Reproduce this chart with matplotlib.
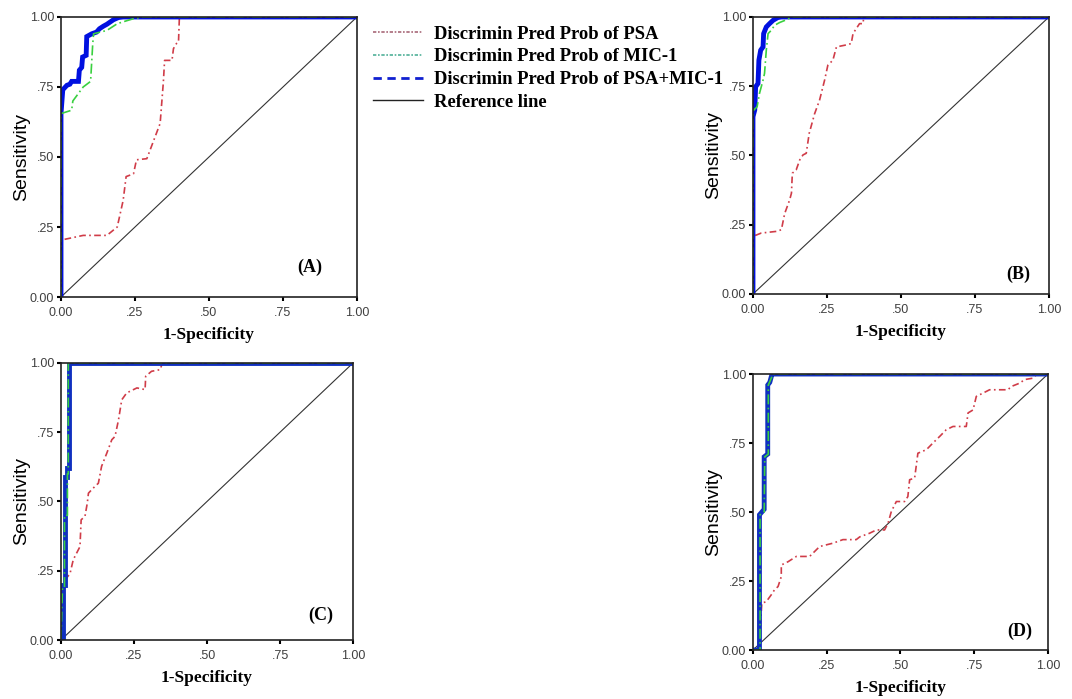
import matplotlib
matplotlib.use("Agg")
import matplotlib.pyplot as plt
from matplotlib.lines import Line2D

# ---- panel A ----
a_psa_x = [0, 0, 0.008, 0.075, 0.155, 0.19, 0.21, 0.22, 0.245, 0.255, 0.29, 0.31, 0.335, 0.346, 0.35,
           0.375, 0.38, 0.39, 0.397, 0.40, 1.0]
a_psa_y = [0, 0.20, 0.205, 0.22, 0.22, 0.25, 0.345, 0.43, 0.44, 0.49, 0.494, 0.55, 0.62, 0.77, 0.845,
           0.845, 0.887, 0.905, 0.91, 1.0, 1.0]
a_mic_x = [0, 0, 0.036, 0.04, 0.075, 0.10, 0.107, 0.11, 0.155, 0.19, 0.22, 0.245, 0.28, 1.0]
a_mic_y = [0, 0.655, 0.667, 0.70, 0.75, 0.77, 0.90, 0.94, 0.952, 0.976, 0.986, 0.994, 1.0, 1.0]
a_comb_x = [0, 0, 0.006, 0.02, 0.03, 0.036, 0.059, 0.062, 0.07, 0.073, 0.085, 0.087, 0.104, 0.12,
            0.13, 0.143, 0.155, 0.166, 0.177, 0.194, 0.21, 1.0]
a_comb_y = [0, 0.655, 0.74, 0.756, 0.76, 0.77, 0.77, 0.81, 0.82, 0.857, 0.863, 0.93, 0.94, 0.946,
            0.958, 0.967, 0.974, 0.982, 0.99, 0.998, 1.0, 1.0]

# ---- panel B ----
b_psa_x = [0, 0, 0.028, 0.079, 0.096, 0.107, 0.124, 0.13, 0.133, 0.146, 0.158, 0.169, 0.18, 0.19,
           0.208, 0.225, 0.242, 0.253, 0.27, 0.282, 0.31, 0.332, 0.338, 0.36, 0.372, 0.374, 1.0]
b_psa_y = [0, 0.208, 0.22, 0.226, 0.232, 0.29, 0.34, 0.364, 0.436, 0.448, 0.484, 0.502, 0.508, 0.58,
           0.65, 0.70, 0.772, 0.826, 0.844, 0.892, 0.898, 0.904, 0.94, 0.976, 0.976, 1.0, 1.0]
b_mic_x = [0, 0, 0.003, 0.014, 0.022, 0.034, 0.039, 0.045, 0.051, 0.062, 0.073, 0.09, 0.113, 0.13, 1.0]
b_mic_y = [0, 0.64, 0.664, 0.676, 0.724, 0.772, 0.796, 0.88, 0.94, 0.952, 0.97, 0.98, 0.99, 1.0, 1.0]
b_comb_x = [0, 0, 0.006, 0.009, 0.017, 0.02, 0.026, 0.034, 0.036, 0.045, 0.056, 0.068, 0.084, 0.096, 1.0]
b_comb_y = [0, 0.64, 0.664, 0.748, 0.76, 0.844, 0.88, 0.892, 0.94, 0.964, 0.976, 0.988, 0.998, 1.0, 1.0]

# ---- panel C ----
c_psa_x = [0, 0.005, 0.014, 0.031, 0.042, 0.059, 0.065, 0.069, 0.082, 0.09, 0.094, 0.11, 0.128, 0.139,
           0.157, 0.174, 0.185, 0.197, 0.208, 0.225, 0.26, 0.288, 0.29, 0.31, 0.34, 0.345, 0.35, 1.0]
c_psa_y = [0, 0.19, 0.217, 0.24, 0.29, 0.325, 0.337, 0.434, 0.446, 0.494, 0.53, 0.548, 0.566, 0.627,
           0.675, 0.723, 0.735, 0.795, 0.867, 0.892, 0.91, 0.904, 0.952, 0.97, 0.976, 0.994, 1.0, 1.0]
c_mic_x = [0, 0.005, 0.012, 0.012, 0.022, 0.022, 0.025, 0.025, 1.0]
c_mic_y = [0, 0.19, 0.19, 0.45, 0.45, 0.60, 0.60, 1.0, 1.0]
c_comb_x = [0, 0.006, 0.006, 0.012, 0.012, 0.022, 0.022, 0.026, 0.026, 1.0]
c_comb_y = [0, 0.0, 0.20, 0.20, 0.59, 0.59, 0.62, 0.62, 1.0, 1.0]

# ---- panel D ----
d_psa_x = [0, 0.02, 0.03, 0.045, 0.062, 0.073, 0.085, 0.096, 0.096, 0.119, 0.147, 0.192, 0.226, 0.271,
           0.305, 0.35, 0.362, 0.395, 0.418, 0.446, 0.458, 0.469, 0.486, 0.514, 0.525, 0.531, 0.548,
           0.559, 0.588, 0.61, 0.633, 0.655, 0.678, 0.723, 0.729, 0.746, 0.757, 0.78, 0.802, 0.864,
           0.876, 0.904, 0.921, 0.949, 0.96, 1.0]
d_psa_y = [0, 0, 0.17, 0.175, 0.20, 0.218, 0.23, 0.266, 0.308, 0.32, 0.339, 0.339, 0.375, 0.387,
           0.40, 0.40, 0.41, 0.423, 0.435, 0.435, 0.46, 0.502, 0.538, 0.538, 0.556, 0.617, 0.623,
           0.713, 0.726, 0.75, 0.774, 0.798, 0.81, 0.81, 0.859, 0.87, 0.919, 0.931, 0.943, 0.943,
           0.955, 0.967, 0.98, 0.985, 0.997, 1.0]
d_mic_x = [0, 0.024, 0.024, 0.038, 0.04, 0.052, 0.052, 0.06, 0.068, 1.0]
d_mic_y = [0, 0, 0.49, 0.50, 0.70, 0.71, 0.96, 0.98, 1.0, 1.0]
d_comb_x = [0, 0.022, 0.022, 0.03, 0.038, 0.038, 0.05, 0.05, 0.057, 0.062, 0.065, 1.0]
d_comb_y = [0, 0, 0.49, 0.50, 0.51, 0.70, 0.71, 0.96, 0.97, 0.99, 1.0, 1.0]

tick_vals = [0, 0.25, 0.5, 0.75, 1.0]
tick_labels = ["0.00", ".25", ".50", ".75", "1.00"]
legend_labels = ["Discrimin Pred Prob of PSA", "Discrimin Pred Prob of MIC-1",
                 "Discrimin Pred Prob of PSA+MIC-1", "Reference line"]

panels = [
    ("(A)", [0.0569, 0.5751, 0.2761, 0.4006], a_psa_x, a_psa_y, a_mic_x, a_mic_y, a_comb_x, a_comb_y, (0.84, 0.107), "#0010e0"),
    ("(B)", [0.7024, 0.5794, 0.2761, 0.3963], b_psa_x, b_psa_y, b_mic_x, b_mic_y, b_comb_x, b_comb_y, (0.895, 0.07), "#0010e0"),
    ("(C)", [0.0569, 0.0844, 0.2724, 0.3963], c_psa_x, c_psa_y, c_mic_x, c_mic_y, c_comb_x, c_comb_y, (0.888, 0.09), "#1030c0"),
    ("(D)", [0.7024, 0.0701, 0.2752, 0.3948], d_psa_x, d_psa_y, d_mic_x, d_mic_y, d_comb_x, d_comb_y, (0.904, 0.066), "#1030c0"),
]

serif = ["Liberation Serif", "DejaVu Serif"]
sans = ["Liberation Sans", "DejaVu Sans"]

fig = plt.figure(figsize=(10.72, 6.99), dpi=100)

for name, pos, px, py, mx, my, cx, cy, lpos, bcol in panels:
    ax = fig.add_axes(pos)
    ax.plot([0, 1], [0, 1], color="#333333", lw=0.8)
    ax.plot(px, py, color="#d03c48", lw=1.2, linestyle=(0, (4, 2, 1, 2)))
    ax.plot(cx, cy, color=bcol, lw=3.5, solid_joinstyle="miter")
    ax.plot(mx, my, color="#3ad040", lw=1.2, linestyle=(0, (6, 2, 1, 2)))
    ax.set_xlim(0, 1)
    ax.set_ylim(0, 1)
    ax.set_xticks(tick_vals)
    ax.set_xticklabels(tick_labels, family=sans, fontsize=9, color="#404040")
    ax.set_yticks(tick_vals)
    ax.set_yticklabels(tick_labels, family=sans, fontsize=9, color="#404040")
    ax.tick_params(direction="out", length=3, width=1.5)
    ax.tick_params(axis="x", pad=4)
    ax.tick_params(axis="y", pad=2)
    for s in ax.spines.values():
        s.set_linewidth(1.2)
        s.set_color("#222222")
    ax.set_xlabel("1-Specificity", family=serif, fontweight="bold", fontsize=12.5, labelpad=6)
    ax.set_ylabel("Sensitivity", family=sans, fontsize=14, labelpad=0)
    ax.text(lpos[0], lpos[1], name, transform=ax.transAxes, ha="center", va="center",
            family=serif, fontweight="bold", fontsize=13)

handles = [
    Line2D([], [], color="#a86878", lw=1.2, linestyle=(0, (2, 1, 1, 1))),
    Line2D([], [], color="#50b098", lw=1.2, linestyle=(0, (2, 1, 1, 1))),
    Line2D([], [], color="#1020d0", lw=2, linestyle=(0, (3, 2))),
    Line2D([], [], color="#222222", lw=1),
]
fig.legend(handles, legend_labels, loc="upper left", bbox_to_anchor=(0.3325, 0.987),
           frameon=False, handlelength=2.7, handletextpad=0.55, labelspacing=0.3,
           prop={"family": serif, "weight": "bold", "size": 13.4})

fig.savefig("out.png", dpi=100)
